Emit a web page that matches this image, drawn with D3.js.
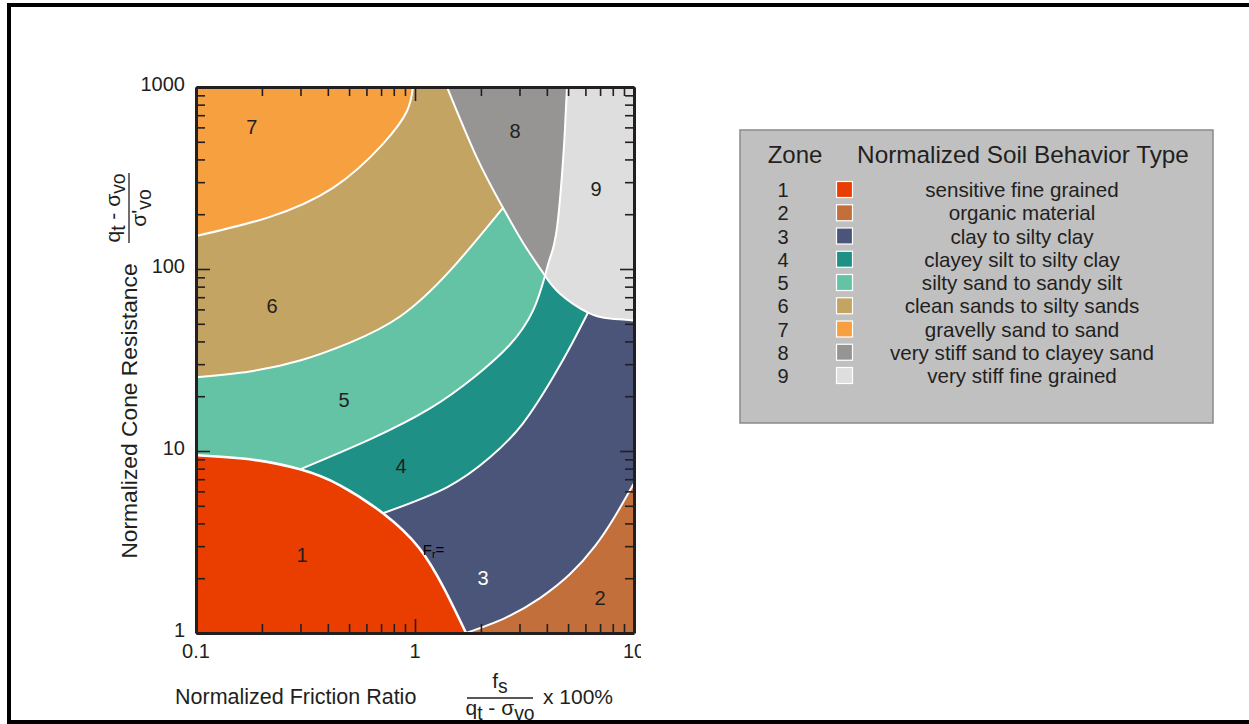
<!DOCTYPE html>
<html><head><meta charset="utf-8">
<script src="https://cdn.jsdelivr.net/npm/d3@7"></script>
<style>
body{margin:0;background:#fff;}
text{font-family:"Liberation Sans",Arial,sans-serif;fill:#231f20;}
</style></head><body>
<svg id="chart" width="1249" height="724"></svg>
<script>
// ---------------- DATA ----------------
const zoneIds = ["1","2","3","4","5","6","7","8","9"];
const zoneNames = ["sensitive fine grained","organic material","clay to silty clay","clayey silt to silty clay",
  "silty sand to sandy silt","clean sands to silty sands","gravelly sand to sand","very stiff sand to clayey sand","very stiff fine grained"];
const zoneColors = ["#E93E00","#C26F3B","#4A5579","#1F9086","#63C3A4","#C4A463","#F7A040","#969594","#DEDEDE"];
// zone label anchors [Fr %, Qt]
const zoneLabelAt = [[0.305,2.68],[6.99,1.556],[2.044,2.0],[0.863,8.24],[0.474,18.97],[0.2224,63.0],[0.180,604],[2.861,574],[6.71,276]];
const xMajorTicks = [0.1,1,10];
const xMinorTicks = [0.2,0.3,0.4,0.5,0.6,0.7,0.8,0.9,2,3,4,5,6,7,8,9];
const yMajorTicks = [1,10,100,1000];
const yMinorTicks = [2,3,4,5,6,7,8,9,20,30,40,50,60,70,80,90,200,300,400,500,600,700,800,900];
const xTickLabels = ["0.1","1","10"];
const yTickLabels = ["1","10","100","1000"];
// zone boundary curves, points as [Fr %, Qt]
const bZone1   = [[0.1,9.47],[0.176,9.0],[0.2985,7.93],[0.4545,6.48],[0.714,4.55],[1.04,2.95],[1.36,1.75],[1.71,1.0]];
const bZone2_3 = [[1.71,1.0],[2.576,1.208],[3.722,1.556],[5.104,2.107],[6.634,3.0],[8.189,4.383],[10,6.65]];
const bZone3_4 = [[0.714,4.55],[1.40,6.32],[2.20,9.23],[3.113,14.2],[4.267,25.4],[5.212,38.95],[6.166,57.6]];
const bZone4_5 = [[0.2985,7.93],[0.6229,11.59],[1.171,17.14],[1.879,25.68],[2.716,38.46],[3.458,59.1],[3.924,91.9]];
const bZone5_6 = [[0.1,25.4],[0.1764,27.35],[0.2985,31.4],[0.5048,39.4],[0.854,54.8],[1.445,97.9],[2.522,217]];
const bZone6_7 = [[0.1,152],[0.211,191],[0.4223,279],[0.714,487],[0.9194,738],[0.979,1000]];
const bZone8L  = [[1.40,1000],[1.919,408],[2.522,217],[3.113,139.4],[3.924,91.9]];
const bZone8_9 = [[4.945,1000],[4.841,596],[4.741,393],[4.451,169],[4.135,115],[3.924,91.9]];
const bZone9B  = [[3.924,91.9],[4.594,73.2],[6.166,57.6],[7.77,53.4],[10,52.1]];

// ---------------- CHART ----------------
const svg = d3.select("#chart");
const L = 196, R = 634, T = 87, B = 633;
const x = d3.scaleLog().domain([0.1,10]).range([L,R]);
const y = d3.scaleLog().domain([1,1000]).range([B,T]);

svg.append("rect").attr("x",9).attr("y",5).attr("width",1400).attr("height",717)
  .attr("fill","none").attr("stroke","#000").attr("stroke-width",4);

const defs = svg.append("defs");
defs.append("clipPath").attr("id","plotclip").append("rect")
  .attr("x",L).attr("y",T).attr("width",R-L).attr("height",B-T);
defs.append("clipPath").attr("id","lblclip").append("rect")
  .attr("x",0).attr("y",0).attr("width",641).attr("height",724);

const line = d3.line().x(d=>x(d[0])).y(d=>y(d[1])).curve(d3.curveNatural);
const rev = a => a.slice().reverse();
const first = a => a[0], last = a => a[a.length-1];
function pathOf(segs){
  return segs.map((s,i)=>{const p=line(s); return i===0?p:"L"+p.slice(1);}).join("")+"Z";
}
const lo=[0.1,1], ro=[10,1], rt=[10,1000], lt=[0.1,1000];
// painted in order; each later shape covers the earlier ones
const layers = [
  {z:2, segs:[[lo,ro],[ro,rt],[rt,lt]]},
  {z:3, segs:[bZone3_4,[last(bZone3_4),rt],[rt,lt],[lt,lo],[lo,first(bZone3_4)]]},
  {z:4, segs:[bZone4_5,[last(bZone4_5),rt],[rt,lt],[lt,lo],[lo,first(bZone4_5)]]},
  {z:5, segs:[bZone5_6,[last(bZone5_6),[last(bZone5_6)[0],1000]],[[last(bZone5_6)[0],1000],lt]]},
  {z:7, segs:[bZone8L,rev(bZone8_9),[first(bZone8_9),first(bZone8L)]]},
  {z:8, segs:[[first(bZone8_9),rt],[rt,last(bZone9B)],rev(bZone9B),rev(bZone8_9)]},
  {z:6, segs:[[lt,last(bZone6_7)],rev(bZone6_7)]},
  {z:0, segs:[bZone1,[last(bZone1),lo]]},
  {z:1, segs:[bZone2_3,[last(bZone2_3),ro]]}
];
const plot = svg.append("g").attr("clip-path","url(#plotclip)");
plot.selectAll("path.zone").data(layers).join("path").attr("class","zone")
  .attr("d",d=>pathOf(d.segs)).attr("fill",d=>zoneColors[d.z]);
const bounds = [bZone1,bZone2_3,bZone3_4,bZone4_5,bZone5_6,bZone6_7,bZone8L,bZone8_9,bZone9B];
plot.selectAll("path.bnd").data(bounds).join("path").attr("class","bnd")
  .attr("d",d=>line(d)).attr("fill","none").attr("stroke","#fff")
  .attr("stroke-width",d=>d===bZone1?2.6:2);

// axes
const axCol = "#231f20";
function styleAxis(g, dom){
  g.selectAll(".tick line").attr("stroke",axCol).attr("stroke-width",1.6);
  g.select(".domain").attr("stroke",dom?axCol:"none").attr("stroke-width",3);
  g.selectAll("text").remove();
}
const majLen = 14, minLen = 9;
[[d3.axisBottom(x),"translate(0,"+B+")"],[d3.axisTop(x),"translate(0,"+T+")"]].forEach(([ax,tr])=>{
  svg.append("g").attr("transform",tr).call(ax.tickValues(xMinorTicks).tickSizeInner(-minLen).tickSizeOuter(0)).call(g=>styleAxis(g,false));
  svg.append("g").attr("transform",tr).call(ax.tickValues(xMajorTicks).tickSizeInner(-majLen).tickSizeOuter(0)).call(g=>styleAxis(g,true));
});
[[d3.axisLeft(y),"translate("+L+",0)"],[d3.axisRight(y),"translate("+R+",0)"]].forEach(([ax,tr])=>{
  svg.append("g").attr("transform",tr).call(ax.tickValues(yMinorTicks).tickSizeInner(-minLen).tickSizeOuter(0)).call(g=>styleAxis(g,false));
  svg.append("g").attr("transform",tr).call(ax.tickValues(yMajorTicks).tickSizeInner(-majLen).tickSizeOuter(0)).call(g=>styleAxis(g,true));
});
svg.append("g").attr("clip-path","url(#lblclip)").selectAll("text").data(xMajorTicks).join("text")
  .attr("x",d=>x(d)).attr("y",B+25).attr("text-anchor","middle").attr("font-size",20)
  .text((d,i)=>xTickLabels[i]);
svg.append("g").selectAll("text").data(yMajorTicks).join("text")
  .attr("x",L-11).attr("y",d=>y(d)+4).attr("text-anchor","end").attr("font-size",20)
  .text((d,i)=>yTickLabels[i]);

// zone labels
svg.append("g").selectAll("text").data(zoneLabelAt).join("text")
  .attr("x",d=>x(d[0])).attr("y",d=>y(d[1])+7).attr("text-anchor","middle").attr("font-size",20)
  .style("fill",(d,i)=>i===2?"#fff":"#231f20").text((d,i)=>zoneIds[i]);
const fr = svg.append("text").attr("x",x(1.085)).attr("y",y(2.85)+5).attr("font-size",15).style("fill","#000");
fr.append("tspan").text("F");
fr.append("tspan").attr("font-size",10.5).attr("dy",3).text("r");
fr.append("tspan").attr("dy",-3).text("=");

// axis titles
function fracText(g, parts, yPos, fs){
  const t = g.append("text").attr("x",0).attr("y",yPos).attr("text-anchor","middle").attr("font-size",fs);
  let low = false;
  parts.forEach(p=>{
    const ts = t.append("tspan").text(p.t);
    if(p.sub){ ts.attr("dy",low?0:5).attr("font-size",fs*0.92); low = true; }
    else { ts.attr("dy",low?-5:0); low = false; }
  });
  return t;
}
svg.append("text").attr("x",175).attr("y",704).attr("font-size",21.5).text("Normalized Friction Ratio");
const xf = svg.append("g").attr("transform","translate(500,698)");
fracText(xf,[{t:"f"},{t:"s",sub:true}],-10,21);
xf.append("line").attr("x1",-33).attr("x2",33).attr("stroke",axCol).attr("stroke-width",1.3);
fracText(xf,[{t:"q"},{t:"t",sub:true},{t:" - \u03c3"},{t:"vo",sub:true}],17,21);
svg.append("text").attr("x",543).attr("y",704).attr("font-size",21).text("x 100%");

svg.append("text").attr("transform","translate(137,411) rotate(-90)").attr("text-anchor","middle")
  .attr("font-size",22.8).text("Normalized Cone Resistance");
const yf = svg.append("g").attr("transform","translate(129,208) rotate(-90)");
fracText(yf,[{t:"q"},{t:"t",sub:true},{t:" - \u03c3"},{t:"vo",sub:true}],-9,21);
yf.append("line").attr("x1",-35).attr("x2",35).attr("stroke",axCol).attr("stroke-width",1.3);
fracText(yf,[{t:"\u03c3'"},{t:"vo",sub:true}],17,21);

// legend
const lg = svg.append("g");
lg.append("rect").attr("x",740).attr("y",130).attr("width",473).attr("height",293)
  .attr("fill","#C0C0C0").attr("stroke","#8a8a8a").attr("stroke-width",1.5);
lg.append("text").attr("x",795).attr("y",163).attr("text-anchor","middle").attr("font-size",24).text("Zone");
lg.append("text").attr("x",1023).attr("y",163).attr("text-anchor","middle").attr("font-size",24.3).text("Normalized Soil Behavior Type");
const rows = lg.selectAll("g.row").data(zoneIds).join("g").attr("class","row")
  .attr("transform",(d,i)=>"translate(0,"+(197+i*23.25)+")");
rows.append("text").attr("x",783).attr("y",0).attr("text-anchor","middle").attr("font-size",20).text(d=>d);
rows.append("rect").attr("x",836.5).attr("y",-15.5).attr("width",16).attr("height",16)
  .attr("fill",(d,i)=>zoneColors[i]).attr("stroke","#fff").attr("stroke-width",1.2);
rows.append("text").attr("x",1022).attr("y",0).attr("text-anchor","middle").attr("font-size",20.6).text((d,i)=>zoneNames[i]);
</script></body></html>
